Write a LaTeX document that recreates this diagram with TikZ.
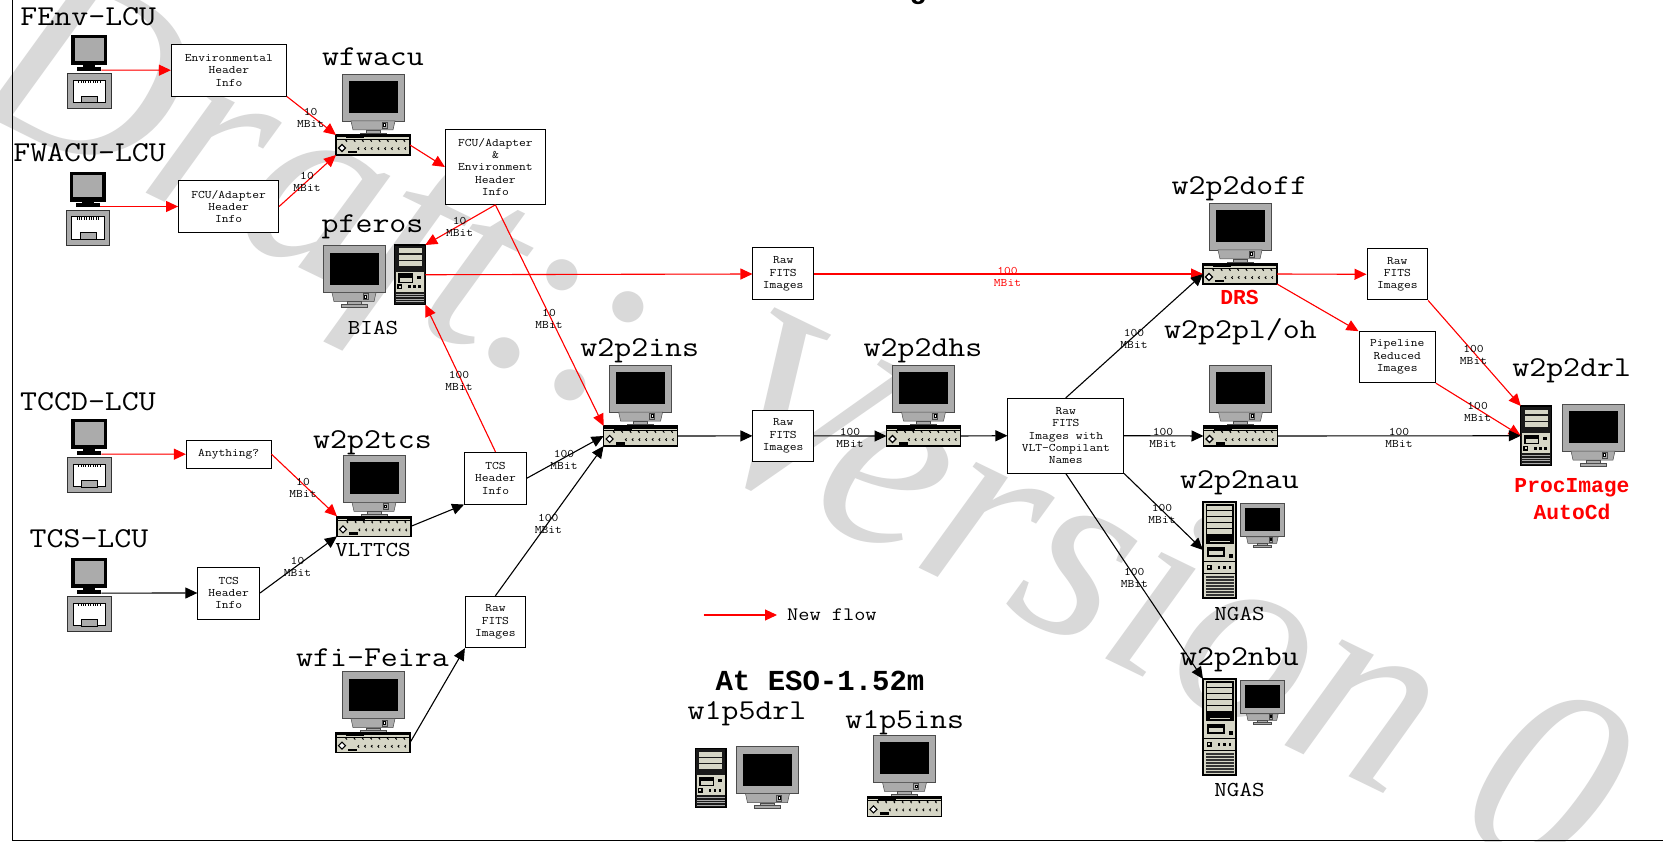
\documentclass[tikz,border=0pt]{standalone}
\usepackage{fontspec}
\setmonofont{Latin Modern Mono}[FakeStretch=1.143]
\newfontfamily\bmono{Liberation Mono}
\setmainfont{Liberation Serif}
\usetikzlibrary{arrows.meta}
\definecolor{wm}{HTML}{D9D9D9}
\definecolor{mong}{HTML}{ABABAB}
\definecolor{beige}{HTML}{D6D6C6}
\tikzset{
  x=1pt,y=-1pt,
  ln/.style={line width=1.1pt,-{Triangle[length=12pt,width=11pt]}},
  red flow/.style={ln,draw=red,fill=red,color=red},
  blk flow/.style={ln,draw=black},
  infobox/.style={draw=black,fill=white,line width=1pt,inner sep=0pt,align=center,font=\ttfamily\fontsize{11.5}{12.4}\selectfont,text=black},
  rate/.style={font=\ttfamily\fontsize{11.5}{12.4}\selectfont,align=center,text=black,inner sep=0pt},
  host/.style={font=\ttfamily\fontsize{28.8}{30}\selectfont,anchor=base,inner sep=0pt,text=black},
  sub/.style={font=\ttfamily\fontsize{21.3}{24}\selectfont,anchor=base,inner sep=0pt,text=black},
  subred/.style={font=\bmono\bfseries\fontsize{21.3}{24}\selectfont,anchor=base,inner sep=0pt,text=red},
  wmark/.style={font=\itshape\fontsize{262}{262}\selectfont,text=wm,anchor=base west,inner sep=0pt,rotate=-25.9},
}
% monitor: centre x, top y, scale
\newcommand{\monitoricon}[3]{%
  \begin{scope}[shift={(#1,#2)},scale=#3]
    \fill[mong,draw=black!70,line width=.7pt] (-31,0) rectangle (31,47);
    \fill[black] (-24.5,7) rectangle (24.5,39);
    \fill[mong,draw=black!70,line width=.5pt] (-22,47) -- (22,47) -- (20,56) -- (-20,56) -- cycle;
    \fill[mong,draw=black!70,line width=.4pt] (9,48) rectangle (14,54);
    \fill[white,draw=black,line width=.3pt] (10.5,49.5) rectangle (12.5,52);
    \fill[mong,draw=black!70,line width=.4pt] (-7,56) rectangle (7,59);
    \fill[mong,draw=black!70,line width=.5pt] (-13,59) rectangle (13,62);
  \end{scope}}
% keyboard, with named rectangle
\newcommand{\keyboardnode}[3]{% name, cx, y0
  \node[draw=black,line width=1.2pt,fill=beige,minimum width=74pt,minimum height=20pt,inner sep=0pt,outer sep=0pt] (#1) at (#2,#3+71) {};
  \begin{scope}[shift={(#2,#3+71)}]
    \fill[black] (-37,-10) rectangle (37,-7.5);
    \fill[beige] (-36,-7.5) rectangle (36,-6);
    \draw[black,line width=1pt] (-37,-5.5) -- (37,-5.5);
    \fill[black] (-27,-7.5) rectangle (-9,-6.5);
    \fill[white,draw=black,line width=1.1pt] (-31,-0.5) -- (-27.5,3) -- (-31,6.5) -- (-34.5,3) -- cycle;
    \fill[black] (-25,6) rectangle (-16,8.5);
    \foreach \i in {0,...,7}{
      \draw[black,line width=.85pt] (-26+\i*8.3,-3.2) arc[start angle=90,end angle=270,radius=1.2];
      \draw[black,line width=.85pt] (-14+\i*6.7,4.8) arc[start angle=90,end angle=270,radius=1.2];}
  \end{scope}}
\newcommand{\pcicon}[3]{\monitoricon{#2}{#3}{1}\keyboardnode{#1}{#2}{#3}}
% small LCU
\newcommand{\lcuicon}[3]{% name cx y0
  \begin{scope}[shift={(#2,#3)}]
    \fill[black] (-18,0) rectangle (18,30);
    \fill[mong] (-14.6,3) rectangle (14.6,25.3);
    \fill[black] (-12,31.3) rectangle (12,35.3);
    \fill[black] (-6,30) rectangle (6,31.5);
    \fill[mong,draw=black!80,line width=.5pt] (-21.8,38.4) rectangle (21.8,73.4);
    \fill[white,draw=black,line width=.9pt] (-16.3,44.7) rectangle (16.3,67.4);
    \fill[mong,draw=black,line width=.4pt] (-8,61) rectangle (8,67.4);
    \foreach \i in {0,...,9}{\draw[black,line width=.7pt] (-10.8+\i*2.4,45.5) -- (-10.8+\i*2.4,48);}
  \end{scope}
  \node[minimum width=24pt,minimum height=7pt,inner sep=0pt,outer sep=0pt] (#1) at (#2,#3+34.8) {};}
% tower, width 30.5, height 59.5
\newcommand{\towericon}[3]{% name cx ytop
  \node[draw=black,line width=1.2pt,fill=black!90,minimum width=30.5pt,minimum height=59.5pt,inner sep=0pt,outer sep=0pt,anchor=north] (#1) at (#2,#3) {};
  \begin{scope}[shift={(#2,#3)}]
    \foreach \yy in {3.5,9.8,16}{\fill[beige] (-11.5,\yy) rectangle (11.5,\yy+4.8);}
    \fill[beige] (-14,27) rectangle (14,47);
    \fill[black] (-12,28.5) rectangle (3,38);
    \fill[beige] (-10,33) rectangle (2,37);
    \fill[black] (7,31) rectangle (11,34);
    \fill[black] (-13,39.5) rectangle (-8,44.5);
    \fill[beige] (-11.5,41) rectangle (-9.5,43);
    \foreach \xx in {-2,3,8}{\fill[black] (\xx,40.5) rectangle (\xx+2.5,43.5);}
    \foreach \yy in {49,51.5,54,56.5}{\fill[mong] (-14,\yy) rectangle (14,\yy+.9);}
  \end{scope}}
% large NGAS tower, 33 x 96
\newcommand{\nasicon}[3]{%
  \node[draw=black,line width=1.2pt,fill=beige,minimum width=33pt,minimum height=96pt,inner sep=0pt,outer sep=0pt,anchor=north] (#1) at (#2,#3) {};
  \begin{scope}[shift={(#2,#3)}]
    \fill[black] (-14,2) rectangle (14,42);
    \foreach \yy in {3.5,9.2,15,21,27}{\fill[beige] (-12.5,\yy) rectangle (12.5,\yy+4.8);}
    \fill[beige] (-10,38.5) rectangle (10,39.5);
    \fill[black] (-13,45) rectangle (5,55);
    \fill[beige] (-11,48.5) rectangle (3,53);
    \fill[black] (9,52) rectangle (13,56);
    \draw[black,line width=.9pt] (-16.5,59.5) -- (16.5,59.5);
    \fill[black] (-13,62.5) rectangle (-8,67.5);
    \fill[beige] (-11.5,64) rectangle (-9.5,66);
    \foreach \xx in {-2,3.5,9}{\fill[black] (\xx,63.5) rectangle (\xx+2.5,66.5);}
    \draw[black,line width=.9pt] (-16.5,71) -- (16.5,71);
    \foreach \yy in {74,77,80,83,86,89,92}{\fill[black!80] (-14,\yy) rectangle (14,\yy+1.7);}
  \end{scope}}
\begin{document}
\begin{tikzpicture}
\useasboundingbox (0,0) rectangle (1663,842);
\fill[white] (0,0) rectangle (1663,842);
% watermark
\begin{scope}
\clip (0,0) rectangle (1663,842);
\node[wmark] (waterdraft) at (-34,106) {Draft};
\node[wmark] (watercolona) at (469.5,349.7) {:};
\node[wmark] (watercolonb) at (535.5,381.7) {:};
\node[wmark] (waterversion) at (686.5,455) {Version 0};
\end{scope}
% frame
\coordinate (ftop) at (12,0);
\coordinate (fcorner) at (12,840);
\coordinate (fright) at (1663,840);
\draw[black,line width=1pt] (ftop) -- (fcorner) -- (fright);
% title remnant
\node[font=\bmono\bfseries\fontsize{29}{30}\selectfont,anchor=base,inner sep=0pt] (titlerest) at (918,-1) {g};
% LCUs
\lcuicon{fenv}{89.3}{35.3}
\lcuicon{fwacu}{87.8}{171.7}
\lcuicon{tccd}{89.3}{419.3}
\lcuicon{tcslcu}{89.3}{558.3}
% desktops
\pcicon{wfwacu}{373}{74}
\pcicon{tcs}{374}{455.3}
\pcicon{feira}{373}{671.7}
\pcicon{ins}{640.6}{365}
\pcicon{dhs}{923.5}{365}
\pcicon{doff}{1240}{203}
\pcicon{ploh}{1240.5}{365}
\pcicon{onefiveins}{904.5}{735.3}
% tower + monitor
\monitoricon{354}{245.7}{1}
\towericon{pferos}{410}{245}
\towericon{drl}{1536}{406}
\monitoricon{1593}{404}{1}
\towericon{onefivedrl}{710.8}{748.3}
\monitoricon{767.5}{746.7}{1}
% NGAS
\nasicon{nau}{1219.5}{502}
\monitoricon{1262.3}{503}{.72}
\nasicon{nbu}{1219.5}{679}
\monitoricon{1262.3}{680}{.72}
% boxes
\node[infobox,minimum width=115pt,minimum height=51.7pt] (env) at (228.9,70.2) {Environmental\\Header\\Info};
\node[infobox,minimum width=100pt,minimum height=51.6pt] (fcua) at (228.6,206.5) {FCU/Adapter\\Header\\Info};
\node[infobox,minimum width=100pt,minimum height=74.6pt] (fcub) at (495.4,167) {FCU/Adapter\\\&\\Environment\\Header\\Info};
\node[infobox,minimum width=84.6pt,minimum height=28.3pt] (anyth) at (228.7,454.2) {Anything?};
\node[infobox,minimum width=61.7pt,minimum height=52pt] (tcsa) at (228.7,593) {TCS\\Header\\Info};
\node[infobox,minimum width=61.8pt,minimum height=51.7pt] (tcsb) at (495.5,478.2) {TCS\\Header\\Info};
\node[infobox,minimum width=60pt,minimum height=51.4pt] (rawf) at (495.4,622) {Raw\\FITS\\Images};
\node[infobox,minimum width=60.5pt,minimum height=51.7pt] (rawm) at (783.2,435.9) {Raw\\FITS\\Images};
\node[infobox,minimum width=60.5pt,minimum height=52pt] (rawt) at (783.2,274) {Raw\\FITS\\Images};
\node[infobox,minimum width=115.7pt,minimum height=74.7pt] (vlt) at (1065.8,435.7) {Raw\\FITS\\Images with\\VLT-Compilant\\Names};
\node[infobox,minimum width=60.6pt,minimum height=51.3pt] (rawr) at (1397.3,274.3) {Raw\\FITS\\Images};
\node[infobox,minimum width=76.4pt,minimum height=51pt] (pipe) at (1397.2,357.2) {Pipeline\\Reduced\\Images};
% red connectors
\draw[red flow] (fenv.east) -- (env.west);
\draw[red flow] (fwacu.east) -- (fcua.west);
\draw[red flow] (env.south east) -- (wfwacu.north west);
\draw[red flow] (fcua.east) -- (wfwacu.south west);
\draw[red flow] (wfwacu.east) -- (fcub.west);
\draw[red flow] (fcub.south) -- (pferos.north east);
\draw[red flow] (fcub.south) -- (ins.north west);
\draw[red flow] (tcsb.north) -- (pferos.south east);
\draw[red flow] (pferos.east) -- (rawt.west);
\draw[red flow] (rawt.east) -- (doff.west);
\draw[red flow] (doff.east) -- (rawr.west);
\draw[red flow] (doff.south east) -- (pipe.north west);
\draw[red flow] (rawr.south east) -- (drl.north west);
\draw[red flow] (pipe.south east) -- (drl.west);
\draw[red flow] (tccd.east) -- (anyth.west);
\draw[red flow] (anyth.east) -- (tcs.north west);
% black connectors
\draw[blk flow] (tcslcu.east) -- (tcsa.west);
\draw[blk flow] (tcsa.east) -- (tcs.south west);
\draw[blk flow] (tcs.east) -- (tcsb.south west);
\draw[blk flow] (tcsb.east) -- (ins.west);
\draw[blk flow] (feira.east) -- (rawf.south west);
\draw[blk flow] (rawf.north) -- (ins.south west);
\draw[blk flow] (ins.east) -- (rawm.west);
\draw[blk flow] (rawm.east) -- (dhs.west);
\draw[blk flow] (dhs.east) -- (vlt.west);
\draw[blk flow] (vlt.north) -- (doff.west);
\draw[blk flow] (vlt.east) -- (ploh.west);
\draw[blk flow] (ploh.east) -- (drl.west);
\draw[blk flow] (vlt.south east) -- (nau.west);
\draw[blk flow] (vlt.south) -- (nbu.north west);
% rate labels
\node[rate] (r1) at (310.7,118) {10\\MBit};
\node[rate] (r2) at (307,182) {10\\MBit};
\node[rate] (r3) at (459.6,227) {10\\MBit};
\node[rate] (r4) at (549,319) {10\\MBit};
\node[rate] (r5) at (459,381) {100\\MBit};
\node[rate] (r6) at (303,488) {10\\MBit};
\node[rate] (r7) at (297.5,566.7) {10\\MBit};
\node[rate] (r8) at (564,460) {100\\MBit};
\node[rate] (r9) at (548.3,524) {100\\MBit};
\node[rate] (r10) at (850,438) {100\\MBit};
\node[rate,text=red] (r11) at (1007.5,277) {100\\MBit};
\node[rate] (r12) at (1134,339) {100\\MBit};
\node[rate] (r13) at (1163,438) {100\\MBit};
\node[rate] (r14) at (1399,438) {100\\MBit};
\node[rate] (r15) at (1162,514) {100\\MBit};
\node[rate] (r16) at (1134.3,578) {100\\MBit};
\node[rate] (r17) at (1473.5,355) {100\\MBit};
\node[rate] (r18) at (1477.6,411.7) {100\\MBit};
% host labels
\node[host] (lfenv) at (88.3,26) {FEnv-LCU};
\node[host] (lwfw) at (373,65.7) {wfwacu};
\node[host] (lfwa) at (89.6,161.7) {FWACU-LCU};
\node[host] (lpfe) at (372.5,232.3) {pferos};
\node[sub] (lbias) at (373,335) {BIAS};
\node[host] (ltccd) at (88,410) {TCCD-LCU};
\node[host] (ltcsl) at (89,547.7) {TCS-LCU};
\node[host] (ltcs) at (372.5,448.3) {w2p2tcs};
\node[sub] (lvlt) at (373,556.7) {VLTTCS};
\node[host] (lfei) at (372.5,666.7) {wfi-Feira};
\node[host] (lins) at (639.8,356.7) {w2p2ins};
\node[host] (ldhs) at (923,356.7) {w2p2dhs};
\node[host] (ldoff) at (1239.5,195) {w2p2doff};
\node[subred] (ldrs) at (1239.5,305) {DRS};
\node[host] (lploh) at (1240.5,338.3) {w2p2pl/oh};
\node[host] (ldrl) at (1571.7,376.7) {w2p2drl};
\node[subred] (lproc) at (1572,492.7) {ProcImage};
\node[subred] (lauto) at (1572,519) {AutoCd};
\node[host] (lnau) at (1239.5,488.3) {w2p2nau};
\node[sub] (lnga) at (1239.5,620) {NGAS};
\node[host] (lnbu) at (1239.5,665) {w2p2nbu};
\node[sub] (lngb) at (1239.5,796.7) {NGAS};
\node[font=\bmono\bfseries\fontsize{29}{30}\selectfont,anchor=base,inner sep=0pt] (leso) at (820,690) {At ESO-1.52m};
\node[host] (lodrl) at (747,719.3) {w1p5drl};
\node[host] (loins) at (904.7,728.3) {w1p5ins};
% legend
\coordinate (lega) at (703.7,615);
\node[font=\ttfamily\fontsize{19}{20}\selectfont,anchor=west,inner sep=0pt,text=black] (legt) at (787,615) {New flow};
\coordinate (legb) at (777,615);
\draw[red flow] (lega) -- (legb);
\end{tikzpicture}
\end{document}
